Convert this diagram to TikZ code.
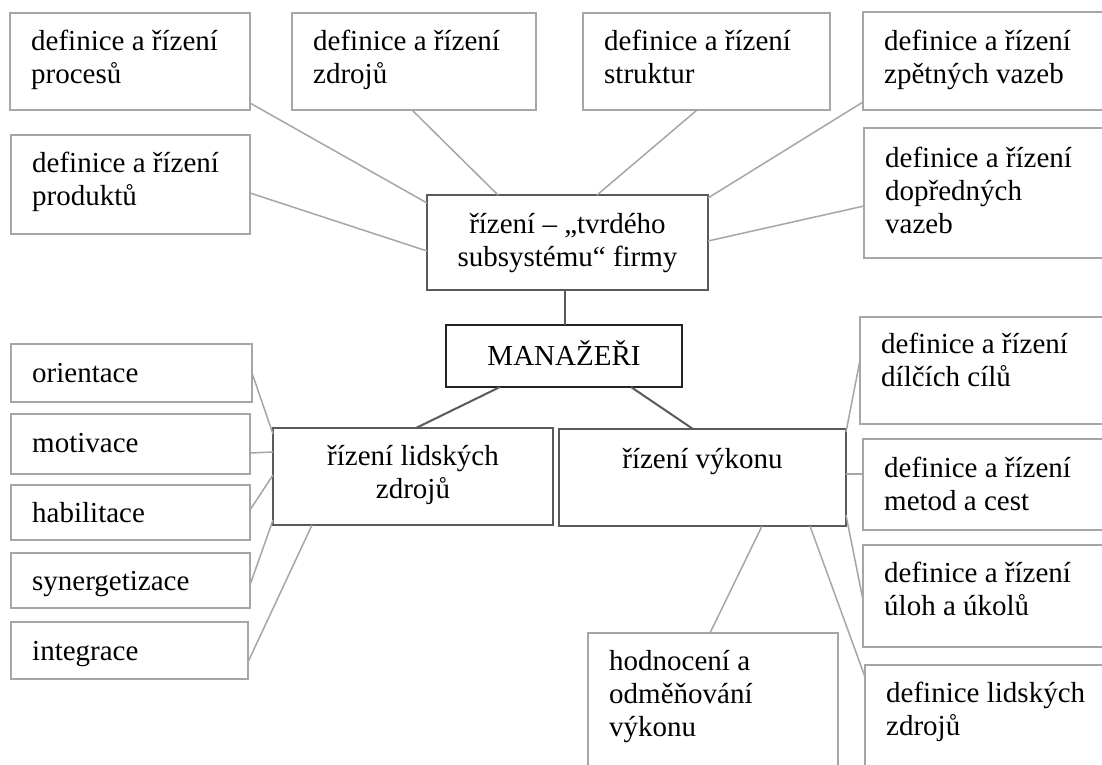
\documentclass[tikz,border=0pt]{standalone}
\usepackage{fontspec}
\setmainfont{Liberation Serif}
\usetikzlibrary{calc}
\definecolor{lg}{HTML}{A6A6A6}
\definecolor{dg}{HTML}{5A5A5A}
\definecolor{mk}{HTML}{222222}
\newcommand\st{\rule{0pt}{24pt}}
\begin{document}
\begin{tikzpicture}[x=1pt,y=-1pt,
  obox/.style={draw=lg, line width=1.8pt, inner sep=0pt, outer sep=0pt, anchor=north west},
  cbox/.style={draw=dg, line width=2pt, inner sep=0pt, outer sep=0pt, anchor=north west},
  mbox/.style={draw=mk, line width=2.6pt, inner sep=0pt, outer sep=0pt, anchor=north west},
  txt/.style={inner sep=0pt, font=\fontsize{29}{33}\selectfont, align=left, anchor=north west},
  stxt/.style={inner sep=0pt, font=\fontsize{29}{33}\selectfont, anchor=base west},
  ctxt/.style={inner sep=0pt, font=\fontsize{29}{33}\selectfont, align=center, anchor=north},
  cstxt/.style={inner sep=0pt, font=\fontsize{29}{33}\selectfont, anchor=base},
  lnk/.style={draw=lg, line width=1.5pt},
  clnk/.style={draw=dg, line width=2pt}]
\fill[white] (0,0) rectangle (1102,764);
\useasboundingbox (0,0) rectangle (1102,764);

% outer boxes, top
\node[obox, minimum width=240, minimum height=97] (A) at (10,13) {};
\node[obox, minimum width=244, minimum height=97] (B) at (292,13) {};
\node[obox, minimum width=247, minimum height=97] (C) at (583,13) {};
\node[obox, minimum width=260, minimum height=98] (D) at (863,12) {};
\node[obox, minimum width=239, minimum height=99] (E) at (11,135) {};
\node[obox, minimum width=260, minimum height=130] (F) at (864,128) {};
% central
\node[cbox, minimum width=281, minimum height=95] (H) at (427,195) {};
\node[mbox, minimum width=236, minimum height=62] (M) at (446,325) {};
\node[cbox, minimum width=280, minimum height=97] (L) at (273,428) {};
\node[cbox, minimum width=287, minimum height=97] (V) at (559,429) {};
% left column
\node[obox, minimum width=241, minimum height=58] (O1) at (11,344) {};
\node[obox, minimum width=239, minimum height=60] (O2) at (11,414) {};
\node[obox, minimum width=239, minimum height=55] (O3) at (11,485) {};
\node[obox, minimum width=239, minimum height=55] (O4) at (11,553) {};
\node[obox, minimum width=237, minimum height=57] (O5) at (11,622) {};
% right column and bottom
\node[obox, minimum width=260, minimum height=107] (R1) at (860,317) {};
\node[obox, minimum width=260, minimum height=91] (R2) at (863,439) {};
\node[obox, minimum width=260, minimum height=102] (R3) at (863,545) {};
\node[obox, minimum width=260, minimum height=130] (R4) at (865,665) {};
\node[obox, minimum width=250, minimum height=160] (Hd) at (588,633) {};

% texts
\node[txt] (At) at ($(A.north west)+(21,13)$) {\st definice a řízení\\procesů};
\node[txt] (Bt) at ($(B.north west)+(21,13)$) {\st definice a řízení\\zdrojů};
\node[txt] (Ct) at ($(C.north west)+(21,13)$) {\st definice a řízení\\struktur};
\node[txt] (Dt) at ($(D.north west)+(21,14)$) {\st definice a řízení\\zpětných vazeb};
\node[txt] (Et) at ($(E.north west)+(21,13)$) {\st definice a řízení\\produktů};
\node[txt] (Ft) at ($(F.north west)+(21,15)$) {\st definice a řízení\\dopředných\\vazeb};
\node[ctxt] (Ht) at ($(H.north)+(0,14)$) {\st řízení – „tvrdého\\subsystému“ firmy};
\node[cstxt] (Mt) at ($(M.north)+(0,40)$) {MANAŽEŘI};
\node[ctxt] (Lt) at ($(L.north)+(0,13)$) {\st řízení lidských\\zdrojů};
\node[cstxt] (Vt) at ($(V.north)+(0,39)$) {řízení výkonu};
\node[stxt] (O1t) at ($(O1.north west)+(21,38)$) {orientace};
\node[stxt] (O2t) at ($(O2.north west)+(21,38)$) {motivace};
\node[stxt] (O3t) at ($(O3.north west)+(21,37)$) {habilitace};
\node[stxt] (O4t) at ($(O4.north west)+(21,37)$) {synergetizace};
\node[stxt] (O5t) at ($(O5.north west)+(21,38)$) {integrace};
\node[txt] (R1t) at ($(R1.north west)+(21,12)$) {\st definice a řízení\\dílčích cílů};
\node[txt] (R2t) at ($(R2.north west)+(21,14)$) {\st definice a řízení\\metod a cest};
\node[txt] (R3t) at ($(R3.north west)+(21,13)$) {\st definice a řízení\\úloh a úkolů};
\node[txt] (R4t) at ($(R4.north west)+(21,13)$) {\st definice lidských\\zdrojů};
\node[txt] (Hdt) at ($(Hd.north west)+(21,13)$) {\st hodnocení a\\odměňování\\výkonu};

% connectors
\draw[lnk] ($(A.north east)+(0,90)$) -- ($(H.north west)+(0,8)$);
\draw[lnk] ($(B.south west)+(120,0)$) -- ($(H.north west)+(71,0)$);
\draw[lnk] ($(C.south west)+(114,0)$) -- ($(H.north west)+(170,0)$);
\draw[lnk] ($(D.north west)+(0,90)$) -- ($(H.north east)+(0,3)$);
\draw[lnk] ($(E.north east)+(0,58)$) -- ($(H.north west)+(0,56)$);
\draw[lnk] ($(F.north west)+(0,78)$) -- ($(H.north east)+(0,46)$);
\draw[clnk] ($(H.south west)+(138,0)$) -- ($(M.north west)+(119,0)$);
\draw[clnk] ($(M.south west)+(54,0)$) -- ($(L.north west)+(143,0)$);
\draw[clnk] ($(M.south west)+(185,0)$) -- ($(V.north west)+(134,0)$);
\draw[lnk] ($(O1.north east)+(0,29)$) -- ($(L.north west)+(0,6)$);
\draw[lnk] ($(O2.north east)+(0,39)$) -- ($(L.north west)+(0,24)$);
\draw[lnk] ($(O3.north east)+(0,25)$) -- ($(L.north west)+(0,47)$);
\draw[lnk] ($(O4.north east)+(0,32)$) -- ($(L.north west)+(0,92)$);
\draw[lnk] ($(O5.north east)+(0,40)$) -- ($(L.south west)+(39,0)$);
\draw[lnk] ($(V.north east)+(0,3)$) -- ($(R1.north west)+(0,43)$);
\draw[lnk] ($(V.north east)+(0,45)$) -- ($(R2.north west)+(0,35)$);
\draw[lnk] ($(V.north east)+(0,86)$) -- ($(R3.north west)+(0,55)$);
\draw[lnk] ($(V.south west)+(251,0)$) -- ($(R4.north west)+(0,12)$);
\draw[lnk] ($(V.south west)+(203,0)$) -- ($(Hd.north west)+(122,0)$);
\end{tikzpicture}
\end{document}
